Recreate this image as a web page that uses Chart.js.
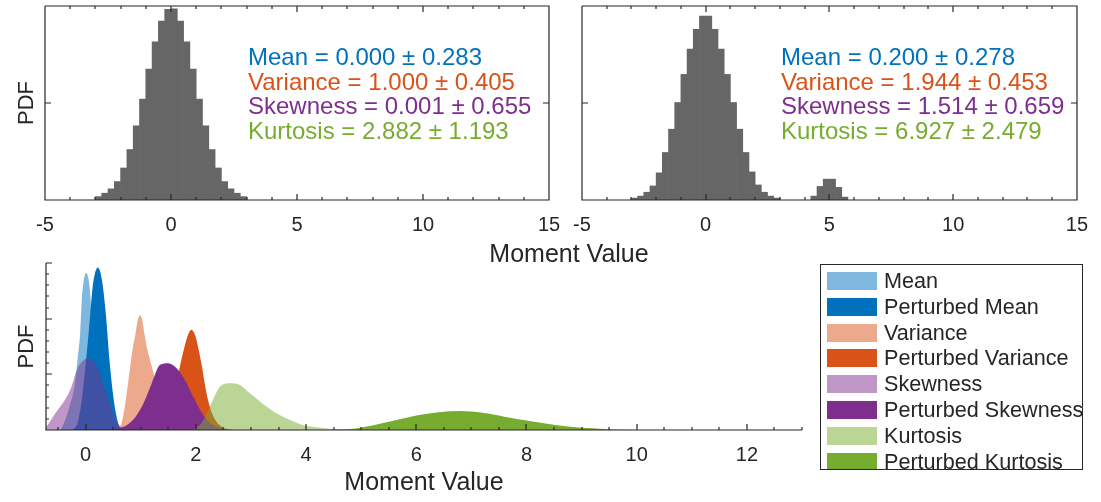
<!DOCTYPE html>
<html>
<head>
<meta charset="utf-8">
<script src="https://cdn.jsdelivr.net/npm/chart.js"></script>
<style>
  body { margin: 0; background: #fff; width: 1101px; height: 502px; position: relative; overflow: hidden;
         font-family: "Liberation Sans", Arial, sans-serif; color: #262626; }
  canvas { position: absolute; }
  .stats { position: absolute; top: 45px; font-size: 24px; line-height: 24.7px; white-space: nowrap; }
  .xlabel { position: absolute; font-size: 25px; white-space: nowrap; transform: translate(-50%, -50%); }
  #legend { position: absolute; left: 820px; top: 264px; width: 263px; height: 206px; border: 1px solid #262626;
            box-sizing: border-box; overflow: hidden; }
  #legend div { position: absolute; left: 63px; font-size: 21.6px; line-height: 25.8px; white-space: nowrap; }
  #legend span { position: absolute; left: -57px; top: 4px; width: 50px; height: 18px; }
</style>
</head>
<body>
<canvas id="histA" width="575" height="270" style="left:0;top:0"></canvas>
<canvas id="histB" width="541" height="270" style="left:560px;top:0"></canvas>
<canvas id="moments" width="815" height="262" style="left:0;top:240px"></canvas>
<div class="xlabel" style="left:569px;top:253px">Moment Value</div>
<div class="stats" id="statsA" style="left:248px"></div>
<div class="stats" id="statsB" style="left:781px"></div>
<div id="legend"></div>
<script>
// histogram bins, width 0.25
let binCentres = [-2.875, -2.625, -2.375, -2.125, -1.875, -1.625, -1.375, -1.125, -0.875, -0.625, -0.375, -0.125,
                  0.125, 0.375, 0.625, 0.875, 1.125, 1.375, 1.625, 1.875, 2.125, 2.375, 2.625, 2.875];
let pdfOriginal = [0.007, 0.014, 0.023, 0.038, 0.066, 0.104, 0.153, 0.208, 0.270, 0.326, 0.369, 0.393,
                   0.394, 0.369, 0.326, 0.270, 0.208, 0.153, 0.104, 0.066, 0.038, 0.023, 0.014, 0.007];
let pdfPerturbed = [0.004, 0.008, 0.016, 0.029, 0.056, 0.098, 0.146, 0.201, 0.259, 0.311, 0.352, 0.379,
                    0.379, 0.352, 0.311, 0.259, 0.201, 0.146, 0.098, 0.058, 0.031, 0.016, 0.008, 0.004];
let outlierCentres = [4.375, 4.625, 4.875, 5.125, 5.375, 5.625];
let pdfOutlier = [0.008, 0.028, 0.043, 0.043, 0.026, 0.006];

let statNames = ["Mean", "Variance", "Skewness", "Kurtosis"];
let statsOriginal = [["0.000", "0.283"], ["1.000", "0.405"], ["0.001", "0.655"], ["2.882", "1.193"]];
let statsPerturbed = [["0.200", "0.278"], ["1.944", "0.453"], ["1.514", "0.659"], ["6.927", "2.479"]];
let statColors = ["#0072bd", "#d95319", "#7e2f8e", "#77ac30"];

// moment distributions (x, pdf)
let meanX = [-0.45, -0.38, -0.3, -0.2, -0.15, -0.1, -0.07, -0.04, -0.015, 0.01, 0.035, 0.06, 0.09, 0.12, 0.165, 0.22, 0.32, 0.4, 0.47];
let meanY = [0, 0.08, 0.2, 0.4, 0.62, 0.87, 1.17, 1.33, 1.39, 1.41, 1.39, 1.33, 1.17, 0.87, 0.62, 0.4, 0.2, 0.08, 0];
let pMeanX = [-0.24, -0.15, -0.07, 0.01, 0.08, 0.13, 0.165, 0.195, 0.22, 0.245, 0.275, 0.31, 0.37, 0.43, 0.51, 0.59, 0.66];
let pMeanY = [0, 0.06, 0.27, 0.64, 1.02, 1.3, 1.4, 1.445, 1.46, 1.445, 1.4, 1.3, 1.02, 0.64, 0.27, 0.06, 0];
let varX = [0.58, 0.65, 0.7, 0.77, 0.85, 0.905, 0.94, 0.965, 0.985, 1.005, 1.03, 1.065, 1.12, 1.2, 1.3, 1.4, 1.5, 1.62, 1.75];
let varY = [0, 0.06, 0.18, 0.42, 0.72, 0.87, 0.98, 1.02, 1.03, 1.02, 0.98, 0.87, 0.72, 0.57, 0.38, 0.2, 0.08, 0.02, 0];
let pVarX = [1.28, 1.42, 1.52, 1.6, 1.66, 1.71, 1.78, 1.84, 1.88, 1.92, 1.96, 2.0, 2.05, 2.11, 2.16, 2.22, 2.32, 2.47, 2.68];
let pVarY = [0, 0.03, 0.12, 0.3, 0.45, 0.57, 0.72, 0.83, 0.88, 0.9, 0.88, 0.83, 0.72, 0.57, 0.42, 0.27, 0.12, 0.03, 0];
let skewX = [-0.9, -0.72, -0.55, -0.34, -0.25, -0.16, -0.07, 0.03, 0.2, 0.32, 0.44, 0.56, 0.68, 0.8];
let skewY = [0, 0.03, 0.15, 0.3, 0.4, 0.54, 0.61, 0.645, 0.58, 0.42, 0.24, 0.075, 0.015, 0];
let pSkewX = [0.45, 0.6, 0.75, 0.9, 1.05, 1.2, 1.35, 1.5, 1.65, 1.8, 1.95, 2.1, 2.25, 2.4, 2.55];
let pSkewY = [0, 0.015, 0.045, 0.115, 0.24, 0.42, 0.585, 0.6, 0.555, 0.45, 0.3, 0.16, 0.07, 0.025, 0];
let kurtX = [1.95, 2.1, 2.2, 2.31, 2.44, 2.62, 2.8, 2.98, 3.13, 3.28, 3.43, 3.58, 3.73, 3.88, 4.18, 4.49, 4.8];
let kurtY = [0, 0.06, 0.15, 0.27, 0.39, 0.42, 0.405, 0.33, 0.27, 0.21, 0.16, 0.12, 0.085, 0.054, 0.024, 0.01, 0];
let pKurtX = [4.4, 4.8, 5.2, 5.6, 6.0, 6.4, 6.8, 7.2, 7.6, 8.0, 8.4, 8.8, 9.2, 9.6, 10.0];
let pKurtY = [0, 0.008, 0.04, 0.085, 0.13, 0.16, 0.17, 0.155, 0.12, 0.085, 0.055, 0.03, 0.015, 0.005, 0];

let seriesNames = ["Mean", "Perturbed Mean", "Variance", "Perturbed Variance",
                   "Skewness", "Perturbed Skewness", "Kurtosis", "Perturbed Kurtosis"];
let seriesX = [meanX, pMeanX, varX, pVarX, skewX, pSkewX, kurtX, pKurtX];
let seriesY = [meanY, pMeanY, varY, pVarY, skewY, pSkewY, kurtY, pKurtY];
let baseRgb = [[0, 114, 189], [217, 83, 25], [126, 47, 142], [119, 172, 48]];

const axisColor = "#262626";
const fontFamily = "'Liberation Sans', Arial, sans-serif";

function seriesColor(i) {
    let c = baseRgb[Math.floor(i / 2)];
    let alpha = (i % 2 === 0) ? 0.5 : 1;
    return "rgba(" + c.join(",") + "," + alpha + ")";
}

// box, inward ticks and minor ticks the way MATLAB draws its axes
const matlabAxes = {
    id: "matlabAxes",
    afterDatasetsDraw(chart, args, o) {
        const ctx = chart.ctx, a = chart.chartArea;
        const xs = chart.scales.x, ys = chart.scales.y;
        const L = Math.round(a.left), R = Math.round(a.right), T = Math.round(a.top), B = Math.round(a.bottom);
        const isMajor = (v, step) => Math.abs(v / step - Math.round(v / step)) < 1e-6;
        ctx.save();
        ctx.strokeStyle = axisColor;
        ctx.lineWidth = 1.2;
        ctx.beginPath();
        for (let k = Math.ceil(xs.min / o.xMinor - 1e-9); k <= Math.floor(xs.max / o.xMinor + 1e-9); k++) {
            const v = k * o.xMinor;
            const p = Math.round(xs.getPixelForValue(v));
            const len = isMajor(v, o.xMajor) ? 6 : 3;
            ctx.moveTo(p, B); ctx.lineTo(p, B - len);
            if (o.box) { ctx.moveTo(p, T); ctx.lineTo(p, T + len); }
        }
        for (let k = Math.ceil(ys.min / o.yMinor - 1e-9); k <= Math.floor(ys.max / o.yMinor + 1e-9); k++) {
            const v = k * o.yMinor;
            const p = Math.round(ys.getPixelForValue(v));
            const len = isMajor(v, o.yMajor) ? 6 : 3;
            ctx.moveTo(L, p); ctx.lineTo(L + len, p);
            if (o.box) { ctx.moveTo(R, p); ctx.lineTo(R - len, p); }
        }
        ctx.moveTo(L, T); ctx.lineTo(L, B); ctx.lineTo(R, B);
        if (o.box) { ctx.lineTo(R, T); ctx.lineTo(L, T); }
        ctx.stroke();
        ctx.restore();
    }
};

function xAxis(min, max, step, height) {
    return {
        type: "linear", min: min, max: max, offset: false,
        grid: { display: false, drawTicks: false }, border: { display: false },
        ticks: { stepSize: step, includeBounds: false, autoSkip: false, maxRotation: 0, padding: 13,
                 color: axisColor, font: { family: fontFamily, size: 20 } },
        afterFit: function (scale) { scale.height = height; }
    };
}

function yAxis(max, width, title) {
    return {
        min: 0, max: max,
        grid: { display: false, drawTicks: false }, border: { display: false },
        ticks: { display: false },
        title: { display: !!title, text: title, color: axisColor, padding: { top: 14, bottom: 0 },
                 font: { family: fontFamily, size: 22 } },
        afterFit: function (scale) { scale.width = width; }
    };
}

function drawHistogram(canvasId, centres, heights, yWidth, title, padRight) {
    let points = centres.map(function (c, i) { return { x: c, y: heights[i] }; });
    new Chart(document.getElementById(canvasId), {
        type: "bar",
        data: { datasets: [{ data: points, backgroundColor: "#666666", borderWidth: 0,
                             barPercentage: 1, categoryPercentage: 1 }] },
        options: {
            responsive: false, animation: false,
            layout: { padding: { left: 0, top: 6, right: padRight, bottom: 0 } },
            plugins: { legend: { display: false }, tooltip: { enabled: false },
                       matlabAxes: { box: true, xMinor: 1, xMajor: 5, yMinor: 0.2, yMajor: 0.2 } },
            scales: { x: xAxis(-5, 15, 5, 70), y: yAxis(0.4, yWidth, title) }
        },
        plugins: [matlabAxes]
    });
}

function fillStats(divId, values) {
    let html = "";
    statNames.forEach(function (name, i) {
        html += '<div style="color:' + statColors[i] + '">' + name + " = " + values[i][0] +
                " \u00b1 " + values[i][1] + "</div>";
    });
    document.getElementById(divId).innerHTML = html;
}

drawHistogram("histA", binCentres, pdfOriginal, 45, "PDF", 26);
drawHistogram("histB", binCentres.concat(outlierCentres), pdfPerturbed.concat(pdfOutlier), 19, "", 18);
fillStats("statsA", statsOriginal);
fillStats("statsB", statsPerturbed);

// overlapping moment distributions; order makes later series paint on top
let momentSets = seriesNames.map(function (name, i) {
    return {
        label: name,
        data: seriesX[i].map(function (x, j) { return { x: x, y: seriesY[i][j] }; }),
        backgroundColor: seriesColor(i),
        borderWidth: 0, pointRadius: 0, fill: "origin",
        cubicInterpolationMode: "monotone",
        order: seriesNames.length - i
    };
});

let xs = xAxis(-0.72, 13, 2, 72);
xs.title = { display: true, text: "Moment Value", color: axisColor, padding: { top: 0, bottom: 4 },
             font: { family: fontFamily, size: 25 } };
new Chart(document.getElementById("moments"), {
    type: "line",
    data: { datasets: momentSets },
    options: {
        responsive: false, animation: false,
        layout: { padding: { left: 0, top: 23, right: 13, bottom: 0 } },
        plugins: { legend: { display: false }, tooltip: { enabled: false },
                   matlabAxes: { box: false, xMinor: 0.5, xMajor: 2, yMinor: 0.1, yMajor: 0.5 } },
        scales: { x: xs, y: yAxis(1.5, 46, "PDF") }
    },
    plugins: [matlabAxes]
});

let legend = document.getElementById("legend");
seriesNames.forEach(function (name, i) {
    let row = document.createElement("div");
    row.style.top = (3 + i * 25.8) + "px";
    row.innerHTML = '<span style="background:' + seriesColor(i) + '"></span>' + name;
    legend.appendChild(row);
});
</script>
</body>
</html>
